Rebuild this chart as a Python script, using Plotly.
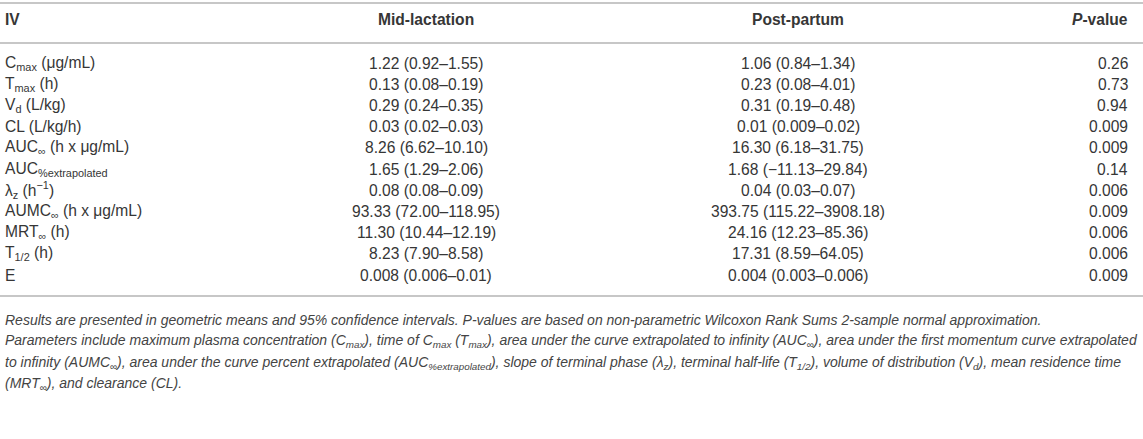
import plotly.graph_objects as go

# table content
headers = ["IV", "Mid-lactation", "Post-partum", "<i>P</i>-value"]

parameters = [
    "C<sub>max</sub> (μg/mL)",
    "T<sub>max</sub> (h)",
    "V<sub>d</sub> (L/kg)",
    "CL (L/kg/h)",
    "AUC<sub>∞</sub> (h x μg/mL)",
    "AUC<sub>%extrapolated</sub>",
    "λ<sub>z</sub> (h<sup>−1</sup>)",
    "AUMC<sub>∞</sub> (h x μg/mL)",
    "MRT<sub>∞</sub> (h)",
    "T<sub>1/2</sub> (h)",
    "E",
]

mid_lactation = [
    "1.22 (0.92–1.55)",
    "0.13 (0.08–0.19)",
    "0.29 (0.24–0.35)",
    "0.03 (0.02–0.03)",
    "8.26 (6.62–10.10)",
    "1.65 (1.29–2.06)",
    "0.08 (0.08–0.09)",
    "93.33 (72.00–118.95)",
    "11.30 (10.44–12.19)",
    "8.23 (7.90–8.58)",
    "0.008 (0.006–0.01)",
]

post_partum = [
    "1.06 (0.84–1.34)",
    "0.23 (0.08–4.01)",
    "0.31 (0.19–0.48)",
    "0.01 (0.009–0.02)",
    "16.30 (6.18–31.75)",
    "1.68 (−11.13–29.84)",
    "0.04 (0.03–0.07)",
    "393.75 (115.22–3908.18)",
    "24.16 (12.23–85.36)",
    "17.31 (8.59–64.05)",
    "0.004 (0.003–0.006)",
]

p_values = ["0.26", "0.73", "0.94", "0.009", "0.009", "0.14", "0.006", "0.009", "0.006", "0.006", "0.009"]

footnotes = [
    "Results are presented in geometric means and 95% confidence intervals. P-values are based on non-parametric Wilcoxon Rank Sums 2-sample normal approximation.",
    "Parameters include maximum plasma concentration (C<sub>max</sub>), time of C<sub>max</sub> (T<sub>max</sub>), area under the curve extrapolated to infinity (AUC<sub>∞</sub>), area under the first momentum curve extrapolated",
    "to infinity (AUMC<sub>∞</sub>), area under the curve percent extrapolated (AUC<sub>%extrapolated</sub>), slope of terminal phase (λ<sub>z</sub>), terminal half-life (T<sub>1/2</sub>), volume of distribution (V<sub>d</sub>), mean residence time",
    "(MRT<sub>∞</sub>), and clearance (CL).",
]

# layout constants (pixel-like x, row units for y)
W, H = 1143, 439
ROW_PX = 21.2
FIRST_ROW_PX = 63
FONT = "Liberation Sans, Arial, Helvetica, sans-serif"
TEXT = "#363636"
RULE = "#b4b4b4"
BODY_SIZE = 15.6

col_x = [3, 426, 798, 1130]
col_anchor = ["left", "center", "center", "right"]


def px_to_row(px):
    return (px - FIRST_ROW_PX) / ROW_PX


rows = list(range(len(parameters)))

fig = go.Figure()

# invisible trace so the axes exist
fig.add_trace(go.Scatter(x=[0, W], y=[0, 0], mode="markers", marker=dict(opacity=0),
                         hoverinfo="skip", showlegend=False))

# body cells
for x, anchor, col in zip(col_x, col_anchor, [parameters, mid_lactation, post_partum, p_values]):
    for r, label in zip(rows, col):
        fig.add_annotation(
            x=x, y=r, xref="x", yref="y",
            text=label, showarrow=False,
            xanchor=anchor, yanchor="middle",
            font=dict(family=FONT, size=BODY_SIZE, color=TEXT),
        )

# header
for x, anchor, label in zip(col_x, col_anchor, headers):
    fig.add_annotation(
        x=x, y=px_to_row(19), xref="x", yref="y",
        text=f"<b>{label}</b>", showarrow=False,
        xanchor=anchor, yanchor="middle",
        font=dict(family=FONT, size=BODY_SIZE, color=TEXT),
    )

# rules
for px in [3, 43, 296]:
    fig.add_shape(
        type="line", xref="paper", x0=0, x1=1, yref="y",
        y0=px_to_row(px), y1=px_to_row(px),
        line=dict(color=RULE, width=1.5),
    )

# footnotes
for i, line in enumerate(footnotes):
    fig.add_annotation(
        x=3, y=px_to_row(320 + 21.3 * i), xref="x", yref="y",
        text=f"<i>{line}</i>", showarrow=False,
        xanchor="left", yanchor="middle",
        font=dict(family=FONT, size=14, color="#444444"),
    )

fig.update_layout(
    width=W,
    height=H,
    margin=dict(l=0, r=0, t=0, b=0),
    paper_bgcolor="white",
    plot_bgcolor="white",
    xaxis=dict(range=[0, W], visible=False, fixedrange=True),
    yaxis=dict(range=[px_to_row(H), px_to_row(0)], visible=False, fixedrange=True),
)

fig.write_html(
    "out.html",
    config={"displayModeBar": False},
    post_script="document.body.style.margin='0';",
)
